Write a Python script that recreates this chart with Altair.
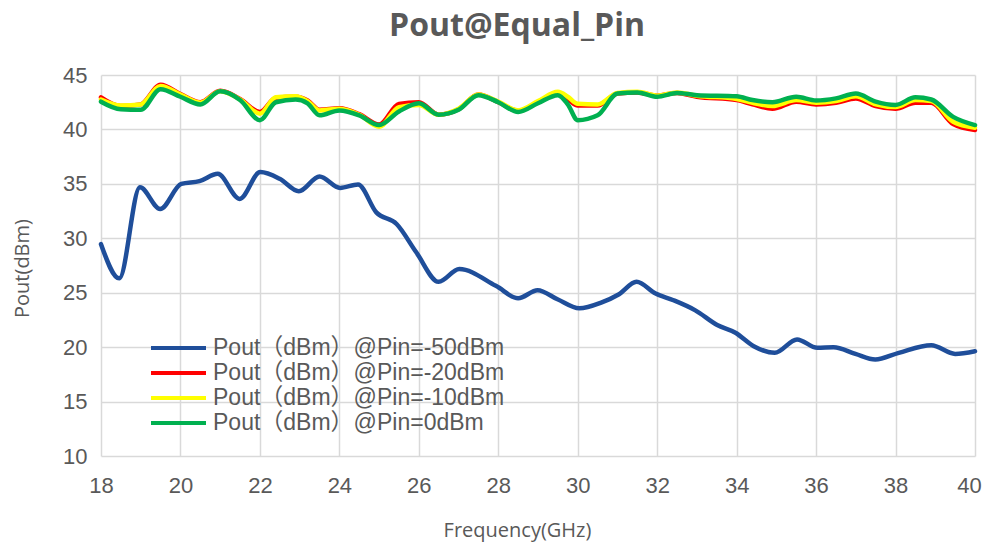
import altair as alt
import pandas as pd

# ---- data ----
freq_lo = [18.0, 18.46, 18.98, 19.49, 20.02, 20.48, 20.94, 21.49, 22.01, 22.5, 22.98, 23.5,
           24.02, 24.47, 24.93, 25.44, 25.94, 26.5, 27.02, 27.94, 28.5, 28.99, 29.49, 30.04,
           30.59, 31.04, 31.48, 31.96, 32.41, 32.96, 33.51, 33.97, 34.43, 34.96, 35.52, 36.03,
           36.44, 36.99, 37.49, 38.08, 38.9, 39.5, 40.0]
pout_m50 = [29.46, 26.32, 34.69, 32.69, 35.0, 35.25, 35.92, 33.62, 36.08, 35.46, 34.32, 35.68,
            34.63, 34.94, 32.38, 31.31, 28.69, 26.0, 27.17, 25.63, 24.49, 25.23, 24.4, 23.57,
            24.09, 24.86, 26.0, 24.92, 24.31, 23.38, 22.03, 21.32, 20.09, 19.48, 20.71, 19.94,
            20.0, 19.38, 18.86, 19.48, 20.18, 19.38, 19.63]

freq_hi = [18.0, 18.5, 19.0, 19.5, 20.0, 20.5, 21.0, 21.5, 22.0, 22.4, 22.9, 23.2, 23.5, 24.0,
           24.5, 25.0, 25.5, 26.0, 26.5, 27.0, 27.5, 28.0, 28.5, 29.0, 29.5, 29.75, 30.0, 30.5,
           31.0, 31.5, 32.0, 32.5, 33.0, 34.0, 34.4, 34.9, 35.5, 36.0, 36.5, 37.0, 37.5, 38.0,
           38.5, 38.9, 39.45, 40.0]
pout_m20 = [42.95, 42.15, 42.3, 44.1, 43.25, 42.5, 43.55, 42.8, 41.6, 42.9, 43.0, 42.65, 41.8, 41.95,
            41.4, 40.45, 42.35, 42.5, 41.35, 41.85, 43.2, 42.5, 41.7, 42.5, 43.35, 42.8, 42.2, 42.2,
            43.3, 43.4, 43.1, 43.35, 43.0, 42.7, 42.3, 41.9, 42.55, 42.3, 42.45, 42.85, 42.15, 41.9,
            42.45, 42.45, 40.5, 39.95]
pout_m10 = [42.75, 42.2, 42.3, 44.0, 43.2, 42.45, 43.5, 42.75, 41.45, 42.95, 43.05, 42.6, 41.75, 41.9,
            41.35, 40.25, 42.05, 42.25, 41.35, 41.9, 43.2, 42.55, 41.75, 42.6, 43.45, 43.0, 42.35, 42.3,
            43.35, 43.45, 43.1, 43.4, 43.1, 42.8, 42.45, 42.15, 42.7, 42.45, 42.6, 43.05, 42.3, 42.05,
            42.7, 42.6, 40.7, 40.15]
pout_0 = [42.55, 41.85, 41.8, 43.7, 43.0, 42.3, 43.5, 42.7, 40.85, 42.5, 42.75, 42.4, 41.3, 41.75,
          41.3, 40.4, 41.65, 42.4, 41.35, 41.8, 43.15, 42.5, 41.6, 42.4, 43.15, 42.3, 40.85, 41.3,
          43.3, 43.4, 43.0, 43.35, 43.15, 43.05, 42.7, 42.5, 43.0, 42.65, 42.85, 43.3, 42.55, 42.25,
          42.95, 42.75, 41.15, 40.4]

series_names = ["Pout（dBm）@Pin=-50dBm", "Pout（dBm）@Pin=-20dBm",
                "Pout（dBm）@Pin=-10dBm", "Pout（dBm）@Pin=0dBm"]
series_colors = ["#1F4E9A", "#FF0000", "#FFFF00", "#00B050"]
x_ticks = [18, 20, 22, 24, 26, 28, 30, 32, 34, 36, 38, 40]
y_ticks = [10, 15, 20, 25, 30, 35, 40, 45]

rows = []
for f, v in zip(freq_lo, pout_m50):
    rows.append({"freq": f, "pout": v, "series": series_names[0]})
for name, vals in zip(series_names[1:], [pout_m20, pout_m10, pout_0]):
    for f, v in zip(freq_hi, vals):
        rows.append({"freq": f, "pout": v, "series": name})
df = pd.DataFrame(rows)

GRAY = "#595959"

base = alt.Chart(df).mark_line(
    interpolate="monotone", strokeWidth=4.5, strokeCap="round", strokeJoin="round"
).encode(
    x=alt.X("freq:Q",
            scale=alt.Scale(domain=[18, 40], nice=False, zero=False),
            axis=alt.Axis(values=x_ticks, title="Frequency(GHz)", labelFlush=False,
                          labelOffset=alt.ExprRef(expr="datum.value == 40 ? -6 : 0"),
                          titleX=416, titleY=74, titleAlign="center", titleBaseline="middle",
                          labelPadding=19)),
    y=alt.Y("pout:Q",
            scale=alt.Scale(domain=[10, 45], nice=False, zero=False),
            axis=alt.Axis(values=y_ticks, title="Pout(dBm)", labelFlush=False,
                          titleX=-79, titleY=193, titleAngle=270, titleAlign="center",
                          titleBaseline="middle", labelPadding=14)),
    color=alt.Color("series:N",
                    scale=alt.Scale(domain=series_names, range=series_colors),
                    legend=alt.Legend(title=None, orient="none", legendX=48, legendY=262,
                                      symbolType="stroke", symbolSize=3025,
                                      symbolStrokeWidth=4, clipHeight=22, rowPadding=2,
                                      labelOffset=5, labelLimit=500, padding=0,
                                      labelFont="Liberation Sans, Noto Sans CJK SC",
                                      labelFontSize=23, labelColor=GRAY)),
)

layers = [base.transform_filter(alt.datum.series == s) for s in series_names]

chart = alt.layer(*layers).properties(
    width=874, height=381,
    title=alt.TitleParams("Pout@Equal_Pin", font="Open Sans", fontSize=32, fontWeight="bold",
                          color=GRAY, anchor="middle", dx=-21, offset=-4,
                          baseline="alphabetic"),
    autosize=alt.AutoSizeParams(type="none"),
    padding={"left": 93, "top": 67, "right": 7, "bottom": 86},
).configure_view(stroke=None).configure_axis(
    grid=True, gridColor="#D9D9D9", gridWidth=1.5, domain=False, ticks=False,
    labelFont="Liberation Sans", labelFontSize=22, labelColor=GRAY,
    titleFont="Open Sans", titleFontSize=20, titleFontWeight="normal", titleColor=GRAY,
)

chart.save("out.html", embed_options={"renderer": "svg", "actions": False})
